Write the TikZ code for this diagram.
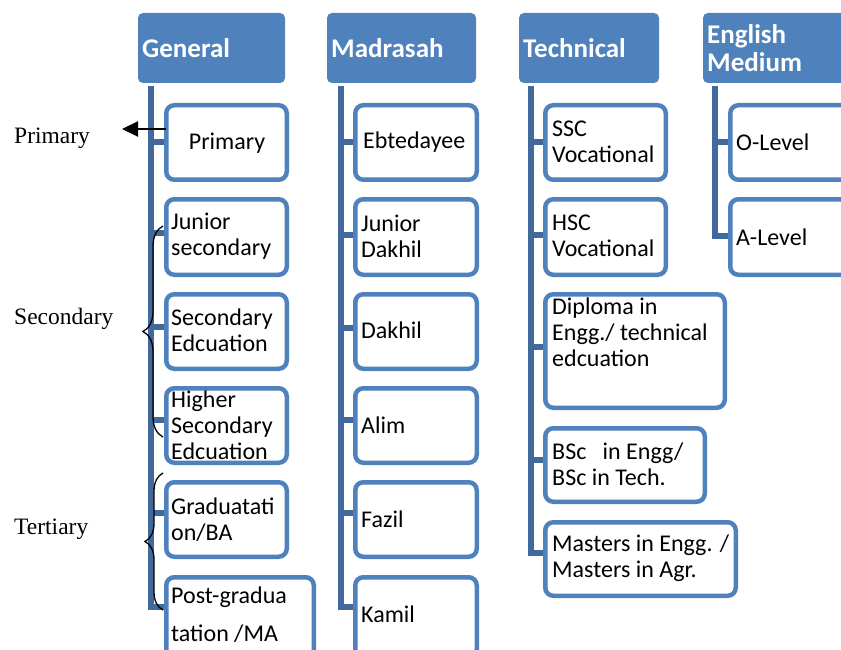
\documentclass[tikz,border=0pt]{standalone}
\usepackage{fontspec}
\setmainfont{Carlito}
\newfontfamily\timesf{Liberation Serif}
\usetikzlibrary{decorations.pathreplacing,arrows.meta,backgrounds}
\definecolor{hdr}{HTML}{4F81BD}
\definecolor{trk}{HTML}{41699C}
\newcommand\bx[5]{\node[cbox, anchor=north west, minimum width={#4-#2-4.5}, minimum height={#5-#3-4.5}] (#1) at ({#2+2.25},{#3+2.25}) {};}
\newcommand\hb[5]{\node[hdrbox, anchor=north west, minimum width={#4-#2}, minimum height={#5-#3}] (#1) at (#2,#3) {};}
\begin{document}
\begin{tikzpicture}[x=1pt,y=-1pt,
  hdrbox/.style={fill=hdr, draw=none, rounded corners=5pt, inner sep=0, outer sep=0},
  hdrtxt/.style={text=white, font=\fontsize{27}{28.5}\selectfont\bfseries, anchor=west, align=left, inner sep=0},
  cbox/.style={draw=hdr, line width=4.5pt, rounded corners=8pt, fill=white, inner sep=0, outer sep=0},
  ctxt/.style={font=\fontsize{24}{26}\selectfont, anchor=west, align=left, inner sep=0},
  trunk/.style={draw=trk, line width=5.5pt},
  side/.style={font=\timesf\fontsize{23.5}{28}\selectfont, anchor=base west, inner sep=0},
  brc/.style={decorate, line width=1.3pt}]
\useasboundingbox (0,0) rectangle (841,650);
\clip (0,0) rectangle (841,650);
% headers
\hb{hG}{138}{13}{285}{83}
\hb{hM}{327}{13}{476}{83}
\hb{hT}{519}{13}{659}{83}
\hb{hE}{703}{13}{900}{83}
\node[hdrtxt] (hGt) at (142,48) {General};
\node[hdrtxt] (hMt) at (331,48) {Madrasah};
\node[hdrtxt] (hTt) at (523,48) {Technical};
\node[hdrtxt] (hEt) at (707,48) {English\\Medium};
% trunk coordinates
\coordinate (gT) at (151,86);
\coordinate (mT) at (341,86);
\coordinate (tT) at (531,86);
\coordinate (eT) at (715,86);
% boxes general
\bx{gP}{164}{103}{289}{182}
\bx{gJ}{164}{197}{289}{277}
\bx{gS}{164}{292}{289}{371}
\bx{gH}{164}{386}{289}{465}
\bx{gG}{164}{480}{289}{559}
\bx{gPG}{164}{575}{316}{660}
% madrasah
\bx{mE}{353}{103}{479}{182}
\bx{mJ}{353}{197}{479}{277}
\bx{mD}{353}{292}{479}{371}
\bx{mA}{353}{386}{479}{465}
\bx{mF}{353}{480}{479}{559}
\bx{mK}{353}{575}{479}{660}
% technical
\bx{tS}{543}{103}{668}{182}
\bx{tH}{543}{197}{668}{277}
\bx{tD}{543}{292}{727}{410}
\bx{tB}{543}{426}{707}{504}
\bx{tM}{543}{520}{738}{598}
% english
\bx{eO}{728}{103}{900}{182}
\bx{eA}{728}{197}{900}{277}
% trunks and branches (behind boxes)
\begin{pgfonlayer}{background}
\draw[trunk] (gT) |- (gPG.west |- 0,607);
\draw[trunk] (gT |- 0,142) -- (gP.west |- 0,142);
\draw[trunk] (gT |- 0,233) -- (gJ.west |- 0,233);
\draw[trunk] (gT |- 0,327) -- (gS.west |- 0,327);
\draw[trunk] (gT |- 0,420) -- (gH.west |- 0,420);
\draw[trunk] (gT |- 0,513) -- (gG.west |- 0,513);
\draw[trunk] (mT) |- (mK.west |- 0,607);
\draw[trunk] (mT |- 0,142) -- (mE.west |- 0,142);
\draw[trunk] (mT |- 0,235) -- (mJ.west |- 0,235);
\draw[trunk] (mT |- 0,328) -- (mD.west |- 0,328);
\draw[trunk] (mT |- 0,420) -- (mA.west |- 0,420);
\draw[trunk] (mT |- 0,513) -- (mF.west |- 0,513);
\draw[trunk] (tT) |- (tM.west |- 0,553);
\draw[trunk] (tT |- 0,142) -- (tS.west |- 0,142);
\draw[trunk] (tT |- 0,235) -- (tH.west |- 0,235);
\draw[trunk] (tT |- 0,347) -- (tD.west |- 0,347);
\draw[trunk] (tT |- 0,460) -- (tB.west |- 0,460);
\draw[trunk] (eT) |- (eA.west |- 0,236);
\draw[trunk] (eT |- 0,142) -- (eO.west |- 0,142);
\end{pgfonlayer}
% texts general
\node[ctxt, anchor=center] (gPt) at (227,143) {Primary};
\node[ctxt] (gJt) at (171,236) {Junior\\secondary};
\node[ctxt] (gSt) at (171,330) {Secondary\\Edcuation};
\node[ctxt] (gHt) at (171,425) {Higher\\Secondary\\Edcuation};
\node[ctxt] (gGt) at (171,520) {Graduatati\\on/BA};
\node[ctxt] (gPGt) at (171,615) {Post-gradua\\[12pt]tation /MA};
% madrasah texts
\node[ctxt] (mEt) at (363,142) {Ebtedayee};
\node[ctxt] (mJt) at (361,236) {Junior\\Dakhil};
\node[ctxt] (mDt) at (361,330) {Dakhil};
\node[ctxt] (mAt) at (361,425) {Alim};
\node[ctxt] (mFt) at (361,519) {Fazil};
\node[ctxt] (mKt) at (361,614) {Kamil};
% technical texts
\node[ctxt] (tSt) at (552,142) {SSC\\Vocational};
\node[ctxt] (tHt) at (552,236) {HSC\\Vocational};
\node[ctxt] (tDt) at (552,332) {Diploma in\\Engg./ technical\\edcuation};
\node[ctxt] (tBt) at (552,464) {BSc\ \ \ in Engg/\\BSc in Tech.};
\node[ctxt] (tMt) at (552,558) {Masters in Engg. /\\Masters in Agr.};
% english texts
\node[ctxt] (eOt) at (736,142) {O-Level};
\node[ctxt] (eAt) at (736,237) {A-Level};
% side labels
\node[side] (lP) at (14,144) {Primary};
\node[side] (lS) at (14,324) {Secondary};
\node[side] (lT) at (14,534) {Tertiary};
\coordinate (arrEnd) at (122,129);
\draw[line width=2.2pt, -{Triangle[length=16pt,width=15pt]}] (gP.west |- 0,129) -- (arrEnd);
\draw[brc, decoration={brace, amplitude=20pt}] (163,437) -- (163,226);
\draw[brc, decoration={brace, amplitude=18pt}] (163,610) -- (163,473);
\end{tikzpicture}
\end{document}
